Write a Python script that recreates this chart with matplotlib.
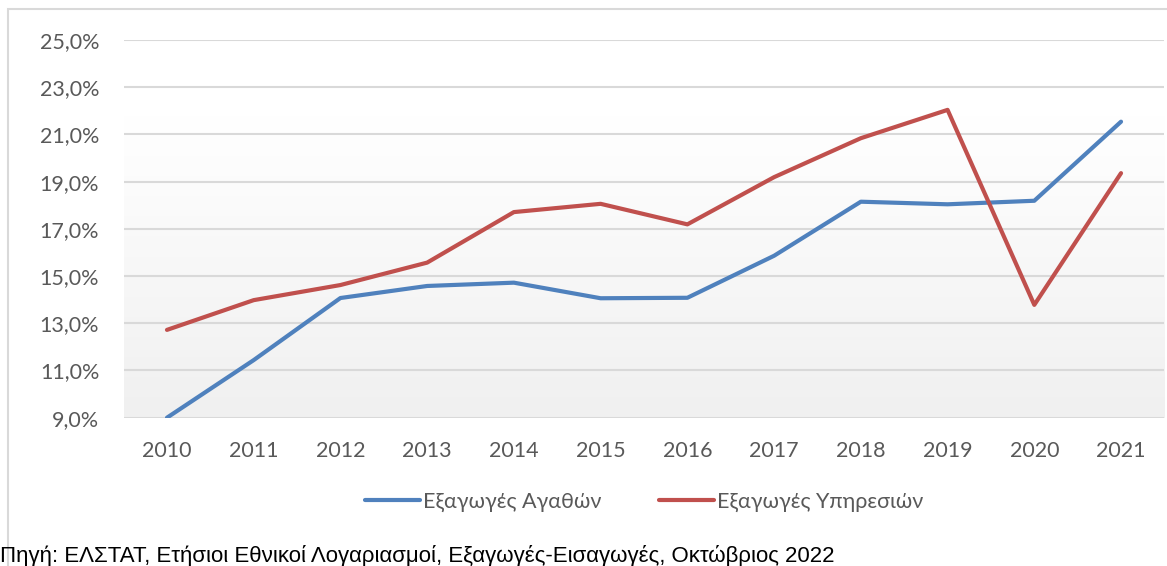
import numpy as np
import matplotlib.pyplot as plt
from matplotlib.patches import Rectangle
from matplotlib.colors import LinearSegmentedColormap

years = ["2010", "2011", "2012", "2013", "2014", "2015", "2016", "2017", "2018", "2019", "2020", "2021"]
agathon = [9.0, 11.44, 14.07, 14.58, 14.72, 14.06, 14.08, 15.86, 18.15, 18.04, 18.19, 21.54]
ypiresion = [12.72, 13.98, 14.62, 15.57, 17.71, 18.06, 17.19, 19.19, 20.84, 22.04, 13.78, 19.36]
yticks = [9, 11, 13, 15, 17, 19, 21, 23, 25]

W, H = 1167, 566
fig = plt.figure(figsize=(W / 100, H / 100), dpi=100)
ax = fig.add_axes([123.6 / W, 1 - 417.7 / H, (1164.4 - 123.6) / W, (417.7 - 40) / H])

# πλαίσιο γραφήματος
fig.patches.append(Rectangle((8 / W, -0.1), 1.2, 1.1 - 9 / H, transform=fig.transFigure,
                             fill=False, edgecolor="#d9d9d9", linewidth=1.5))

x = np.arange(len(years))
ax.set_xlim(-0.5, len(years) - 0.5)
ax.set_ylim(9, 25)

# διαβάθμιση φόντου (λευκό πάνω, γκρι κάτω)
cmap = LinearSegmentedColormap.from_list("bg", [(0, "#ffffff"), (0.2, "#ffffff"), (1, "#f0f0f0")])
grad = np.linspace(0, 1, 256).reshape(-1, 1)
ax.imshow(grad, cmap=cmap, aspect="auto", extent=(-0.5, len(years) - 0.5, 9, 25), zorder=0)

for t in yticks:
    ax.axhline(t, color="#d9d9d9", linewidth=1.5, zorder=1)

ax.plot(x, agathon, color="#4f81bd", linewidth=3, solid_capstyle="round", zorder=3, label="Εξαγωγές Αγαθών")
ax.plot(x, ypiresion, color="#c0504d", linewidth=3, solid_capstyle="round", zorder=3, label="Εξαγωγές Υπηρεσιών")

ax.set_xticks(x)
ax.set_xticklabels(years)
ax.set_yticks(yticks)
ax.set_yticklabels([f"{t:.1f}%".replace(".", ",") for t in yticks])
for lab in ax.get_xticklabels() + ax.get_yticklabels():
    lab.set_family("Lato")
    lab.set_fontsize(15.5)
    lab.set_color("#595959")
ax.tick_params(axis="both", length=0)
ax.tick_params(axis="y", pad=17.5)
ax.tick_params(axis="x", pad=17)
for s in ax.spines.values():
    s.set_visible(False)

leg = ax.legend(loc="center", bbox_to_anchor=(0.5, (H - 502 - (H - 417.7)) / (417.7 - 40)), ncol=2,
                frameon=False, handlelength=2.55, handletextpad=0.14, columnspacing=2.7,
                prop={"family": "Lato", "size": 15.5})
for t in leg.get_texts():
    t.set_color("#595959")

fig.text(0, 4 / H, "Πηγή: ΕΛΣΤΑΤ, Ετήσιοι Εθνικοί Λογαριασμοί, Εξαγωγές-Εισαγωγές, Οκτώβριος 2022",
         family="Liberation Sans", fontsize=16, color="black", ha="left", va="baseline")

fig.savefig("out.png", dpi=100)
